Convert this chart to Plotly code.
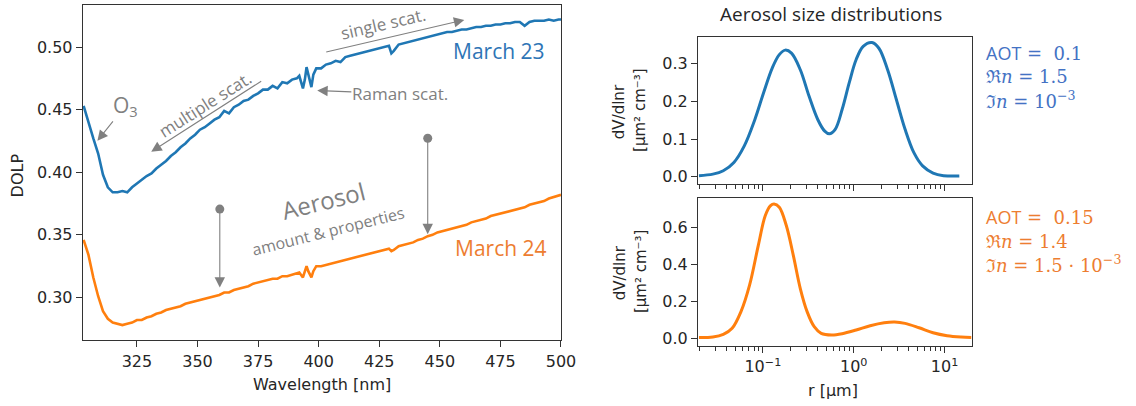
import plotly.graph_objects as go

W, H = 1136, 406

# ---------------- data: DOLP spectra ----------------
wavelength = [303, 305, 307, 309, 311, 313, 315, 317, 319, 321, 323, 325, 327, 329, 331, 333, 335,
              337, 339, 341, 343, 345, 347, 349, 351, 353, 355, 357, 359, 361, 363, 365, 367, 369,
              371, 373, 375, 377, 379, 381, 383, 385, 387, 389, 391, 392, 393.5, 394.3, 395, 395.7,
              397, 397.8, 399, 401, 403, 405, 407, 409, 411, 413, 415, 417, 419, 421, 423, 425, 427,
              429, 430, 431, 433, 435, 437, 439, 441, 443, 445, 447, 449, 451, 453, 455, 457, 459,
              461, 463, 465, 467, 469, 471, 473, 475, 477, 479, 481, 483, 485, 487, 489, 491, 493,
              495, 497, 499, 500]
dolp_march23 = [0.453, 0.439, 0.427, 0.415, 0.398, 0.388, 0.384, 0.384, 0.385, 0.384, 0.388, 0.391,
                 0.394, 0.397, 0.399, 0.403, 0.406, 0.409, 0.413, 0.416, 0.420, 0.423, 0.427, 0.430,
                 0.434, 0.436, 0.439, 0.442, 0.444, 0.449, 0.447, 0.452, 0.454, 0.457, 0.458, 0.461,
                 0.463, 0.466, 0.466, 0.469, 0.467, 0.472, 0.471, 0.474, 0.475, 0.477, 0.467, 0.474,
                 0.484, 0.478, 0.468, 0.478, 0.483, 0.483, 0.486, 0.487, 0.489, 0.488, 0.492, 0.493,
                 0.494, 0.495, 0.496, 0.497, 0.498, 0.499, 0.500, 0.501, 0.495, 0.497, 0.502, 0.503,
                 0.504, 0.505, 0.506, 0.507, 0.508, 0.509, 0.510, 0.511, 0.512, 0.512, 0.513, 0.514,
                 0.514, 0.515, 0.516, 0.516, 0.517, 0.517, 0.518, 0.518, 0.519, 0.519, 0.520, 0.520,
                 0.517, 0.520, 0.521, 0.521, 0.521, 0.522, 0.521, 0.522, 0.522]
dolp_march24 = [0.346, 0.334, 0.316, 0.301, 0.289, 0.283, 0.280, 0.279, 0.278, 0.279, 0.280, 0.282,
                 0.282, 0.284, 0.285, 0.287, 0.288, 0.290, 0.291, 0.292, 0.293, 0.295, 0.296, 0.297,
                 0.298, 0.299, 0.300, 0.301, 0.302, 0.304, 0.304, 0.306, 0.307, 0.308, 0.309, 0.311,
                 0.312, 0.313, 0.314, 0.315, 0.315, 0.317, 0.317, 0.318, 0.319, 0.320, 0.316, 0.320,
                 0.325, 0.321, 0.316, 0.321, 0.325, 0.325, 0.326, 0.327, 0.328, 0.329, 0.330, 0.331,
                 0.332, 0.333, 0.334, 0.335, 0.336, 0.337, 0.338, 0.339, 0.337, 0.338, 0.341, 0.342,
                 0.343, 0.344, 0.346, 0.347, 0.349, 0.350, 0.352, 0.353, 0.354, 0.355, 0.356, 0.357,
                 0.358, 0.360, 0.361, 0.362, 0.363, 0.365, 0.366, 0.367, 0.368, 0.369, 0.370, 0.371,
                 0.372, 0.374, 0.375, 0.376, 0.377, 0.379, 0.380, 0.381, 0.382]

# ---------------- data: size distributions ----------------
radius_23 = [0.0198, 0.0282, 0.0367, 0.0480, 0.0625, 0.0817, 0.1019, 0.1271, 0.1517, 0.1762, 0.2065,
             0.2582, 0.3221, 0.4018, 0.4797, 0.5383, 0.6252, 0.7464, 0.8913, 1.064, 1.271, 1.585,
             1.892, 2.360, 2.944, 3.673, 4.592, 5.728, 7.464, 9.727, 14.52]
dvdlnr_23 = [0.003, 0.007, 0.016, 0.038, 0.082, 0.152, 0.223, 0.289, 0.324, 0.336, 0.328, 0.284,
             0.214, 0.152, 0.121, 0.114, 0.126, 0.179, 0.249, 0.311, 0.346, 0.356, 0.341, 0.284,
             0.205, 0.126, 0.064, 0.029, 0.010, 0.003, 0.002]
radius_24 = [0.0198, 0.0282, 0.0367, 0.0459, 0.0573, 0.0714, 0.0891, 0.1064, 0.1216, 0.1327, 0.1517,
             0.1811, 0.2163, 0.2582, 0.3076, 0.3673, 0.4385, 0.5728, 0.7464, 1.064, 1.517, 2.163,
             2.818, 3.673, 5.236, 7.464, 10.64, 15.17, 19.77]
dvdlnr_24 = [0.004, 0.007, 0.021, 0.054, 0.143, 0.287, 0.502, 0.663, 0.716, 0.725, 0.708, 0.609,
             0.448, 0.269, 0.143, 0.063, 0.027, 0.018, 0.025, 0.045, 0.068, 0.084, 0.088, 0.081,
             0.057, 0.030, 0.014, 0.007, 0.005]

wl_ticks = [325, 350, 375, 400, 425, 450, 475, 500]
dolp_ticks = [0.30, 0.35, 0.40, 0.45, 0.50]
r_tickvals = [0.1, 1, 10]
r_ticktext = ["10<sup>−1</sup>", "10<sup>0</sup>", "10<sup>1</sup>"]
top_yticks = [0.0, 0.1, 0.2, 0.3]
bot_yticks = [0.0, 0.2, 0.4, 0.6]

BLUE = "#1f77b4"
ORANGE = "#ff7f0e"
GRAY = "#808080"
AXC = "#333333"
TXT = "#262626"
SANS = "Open Sans"


def px(x):
    return x / W


def py(y):
    return 1 - y / H


fig = go.Figure()
fig.add_trace(go.Scatter(x=wavelength, y=dolp_march23, mode="lines",
                         line=dict(color=BLUE, width=2.6), xaxis="x", yaxis="y"))
fig.add_trace(go.Scatter(x=wavelength, y=dolp_march24, mode="lines",
                         line=dict(color=ORANGE, width=2.6), xaxis="x", yaxis="y"))
fig.add_trace(go.Scatter(x=radius_23, y=dvdlnr_23, mode="lines", line_shape="spline",
                         line=dict(color=BLUE, width=3), xaxis="x2", yaxis="y2"))
fig.add_trace(go.Scatter(x=radius_24, y=dvdlnr_24, mode="lines", line_shape="spline",
                         line=dict(color=ORANGE, width=3), xaxis="x3", yaxis="y3"))

axis_common = dict(showgrid=False, zeroline=False, showline=True, mirror=True,
                   linecolor=AXC, linewidth=1.3, ticks="outside", ticklen=6, tickwidth=1.2,
                   tickcolor=AXC, tickfont=dict(family="DejaVu Sans", size=16, color=TXT))

L = dict(x0=84, x1=568.5, y0=5, y1=342)
R = dict(x0=707.5, x1=984.5)
RT = dict(y0=36.7, y1=185)
RB = dict(y0=199.3, y1=347.7)

minor_log = dict(ticks="outside", ticklen=3.5, tickwidth=1, tickcolor=AXC, dtick="D1", showgrid=False)

fig.update_layout(
    width=W, height=H, margin=dict(l=0, r=0, t=0, b=0),
    paper_bgcolor="white", plot_bgcolor="white", showlegend=False,
    xaxis=dict(axis_common, domain=[px(L["x0"]), px(L["x1"])], range=[302.7, 500],
               tickmode="array", tickvals=wl_ticks, anchor="y"),
    yaxis=dict(axis_common, domain=[py(L["y1"]), py(L["y0"])], range=[0.2658, 0.5336],
               tickmode="array", tickvals=dolp_ticks, tickformat=".2f", anchor="x"),
    xaxis2=dict(axis_common, type="log", domain=[px(R["x0"]), px(R["x1"])], range=[-1.712, 1.296],
                tickmode="array", tickvals=r_tickvals, ticktext=r_ticktext, showticklabels=False,
                minor=minor_log, anchor="y2"),
    yaxis2=dict(axis_common, domain=[py(RT["y1"]), py(RT["y0"])], range=[-0.0194, 0.3721],
                tickmode="array", tickvals=top_yticks, tickformat=".1f", anchor="x2"),
    xaxis3=dict(axis_common, type="log", domain=[px(R["x0"]), px(R["x1"])], range=[-1.712, 1.296],
                tickmode="array", tickvals=r_tickvals, ticktext=r_ticktext,
                minor=minor_log, anchor="y3"),
    yaxis3=dict(axis_common, domain=[py(RB["y1"]), py(RB["y0"])], range=[-0.0412, 0.7558],
                tickmode="array", tickvals=bot_yticks, tickformat=".1f", anchor="x3"),
)

ann = []


def ptext(text, x, y, size, color=TXT, family="DejaVu Sans", angle=0, xanchor="center"):
    ann.append(dict(text=text, x=px(x), y=py(y), xref="paper", yref="paper", showarrow=False,
                    xanchor=xanchor, yanchor="middle", textangle=angle,
                    font=dict(family=family, size=size, color=color)))


def dtext(text, x, y, size, angle=0, color=GRAY, xanchor="center"):
    ann.append(dict(text=text, x=x, y=y, xref="x", yref="y", showarrow=False,
                    xanchor=xanchor, yanchor="middle", textangle=angle,
                    font=dict(family=SANS, size=size, color=color)))


def darrow(x_tail, y_tail, x_head, y_head, size=1.9):
    ann.append(dict(text="", x=x_head, y=y_head, ax=x_tail, ay=y_tail, xref="x", yref="y",
                    axref="x", ayref="y", showarrow=True, arrowhead=2, arrowsize=size,
                    arrowwidth=1.1, arrowcolor=GRAY))


def labelled_arrow(text, x_text, y_text, x_head, y_head, size):
    # text sits at the arrow's tail; the arrow runs from the text to the marked spot
    ann.append(dict(text=text, x=x_head, y=y_head, ax=x_text, ay=y_text, xref="x", yref="y",
                    axref="x", ayref="y", showarrow=True, arrowhead=2, arrowsize=1.9,
                    arrowwidth=1.1, arrowcolor=GRAY, standoff=0, borderpad=0,
                    font=dict(family=SANS, size=size, color=GRAY)))


# axis titles
ptext("DOLP", 17.8, 176.7, 16, angle=-90)
ptext("Wavelength [nm]", 326, 386, 16)
ptext("Aerosol size distributions", 842, 14, 19, family=SANS)
ptext("dV/dlnr", 628, 112, 15, angle=-90)
ptext("[µm² cm⁻³]", 649, 111, 15, angle=-90)
ptext("dV/dlnr", 628, 274, 15, angle=-90)
ptext("[µm² cm⁻³]", 649, 273, 15, angle=-90)
ptext("r [µm]", 844, 392.5, 16)

# left panel annotations (data coordinates)
labelled_arrow("O<sub>3</sub>", 320.2, 0.4530, 308.7, 0.4251, 21)
dtext("multiple scat.", 353.0, 0.4545, 17, angle=-32.5)
darrow(376.9, 0.4735, 330.9, 0.4164)
dtext("single scat.", 426.9, 0.5185, 17, angle=-13)
darrow(402.5, 0.4958, 460.1, 0.5217)
labelled_arrow("Raman scat.", 433.5, 0.4627, 399.4, 0.4653, 17)
dtext("Aerosol", 402.0, 0.3775, 24, angle=-14)
dtext("amount & properties", 404.0, 0.3531, 16, angle=-14)
dtext("March 23", 474.4, 0.4966, 21, color="#2e75b6")
dtext("March 24", 475.1, 0.3397, 21, color="#ed7d31")
darrow(359.2, 0.3706, 359.2, 0.3079)
darrow(445.0, 0.4272, 445.0, 0.3505)

# right panel parameter texts
SERIF = "DejaVu Serif"
BL = "#4472c4"
OR = "#ed7d31"


def mline(text, y, color):
    ann.append(dict(text=text, x=px(996.7), y=py(y), xref="paper", yref="paper", showarrow=False,
                    xanchor="left", yanchor="middle",
                    font=dict(family=SERIF, size=18, color=color)))


mline('<span style="font-family:Open Sans">AOT</span> =  0.1', 53.3, BL)
mline('ℜ<i>n</i> = 1.5', 77.3, BL)
mline('ℑ<i>n</i> = 10<sup>−3</sup>', 100.5, BL)
mline('<span style="font-family:Open Sans">AOT</span> =  0.15', 218.3, OR)
mline('ℜ<i>n</i> = 1.4', 242.3, OR)
mline('ℑ<i>n</i> = 1.5 · 10<sup>−3</sup>', 265.7, OR)

fig.update_layout(annotations=ann)

# dots at the start of the vertical arrows
for xd, yd in [(359.2, 0.3706), (445.0, 0.4272)]:
    fig.add_shape(type="circle", xref="x", yref="y", xsizemode="pixel", ysizemode="pixel",
                  xanchor=xd, yanchor=yd, x0=-4.5, x1=4.5, y0=-4.5, y1=4.5,
                  fillcolor=GRAY, line=dict(width=0))

fig.write_html("out.html")
